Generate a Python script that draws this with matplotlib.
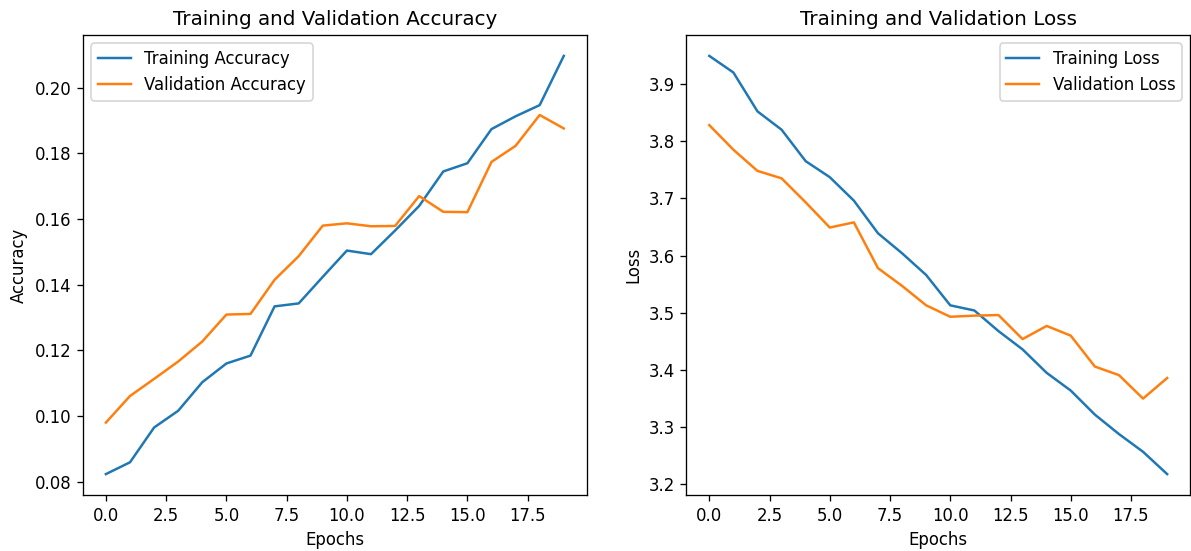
import matplotlib
matplotlib.use("Agg")
from matplotlib import pyplot as plt

epochs = list(range(20))

train_acc = [0.0823, 0.0859, 0.0965, 0.1016, 0.1103, 0.1160, 0.1184, 0.1334, 0.1343, 0.1424,
             0.1504, 0.1493, 0.1565, 0.1640, 0.1745, 0.1770, 0.1874, 0.1913, 0.1947, 0.2097]
val_acc = [0.0980, 0.1061, 0.1113, 0.1166, 0.1227, 0.1309, 0.1311, 0.1415, 0.1487, 0.1580,
           0.1587, 0.1578, 0.1579, 0.1670, 0.1622, 0.1621, 0.1774, 0.1823, 0.1917, 0.1876]

train_loss = [3.949, 3.920, 3.852, 3.820, 3.765, 3.737, 3.696, 3.639, 3.604, 3.566,
              3.513, 3.504, 3.468, 3.436, 3.395, 3.364, 3.322, 3.288, 3.257, 3.218]
val_loss = [3.828, 3.785, 3.748, 3.735, 3.693, 3.649, 3.658, 3.578, 3.547, 3.513,
            3.493, 3.495, 3.496, 3.454, 3.477, 3.460, 3.406, 3.391, 3.350, 3.386]

dpi = 119
fig, (ax1, ax2) = plt.subplots(1, 2, figsize=(1191 / dpi, 551 / dpi), dpi=dpi)
fig.subplots_adjust(left=0.0697, right=0.9992, top=0.9365, bottom=0.1016, wspace=0.198)

ax1.plot(epochs, train_acc, label="Training Accuracy")
ax1.plot(epochs, val_acc, label="Validation Accuracy")
ax1.set_title("Training and Validation Accuracy")
ax1.set_xlabel("Epochs")
ax1.set_ylabel("Accuracy")
ax1.legend()

ax2.plot(epochs, train_loss, label="Training Loss")
ax2.plot(epochs, val_loss, label="Validation Loss")
ax2.set_title("Training and Validation Loss")
ax2.set_xlabel("Epochs")
ax2.set_ylabel("Loss")
ax2.legend()

fig.savefig("out.png", dpi=dpi)
plt.close()
